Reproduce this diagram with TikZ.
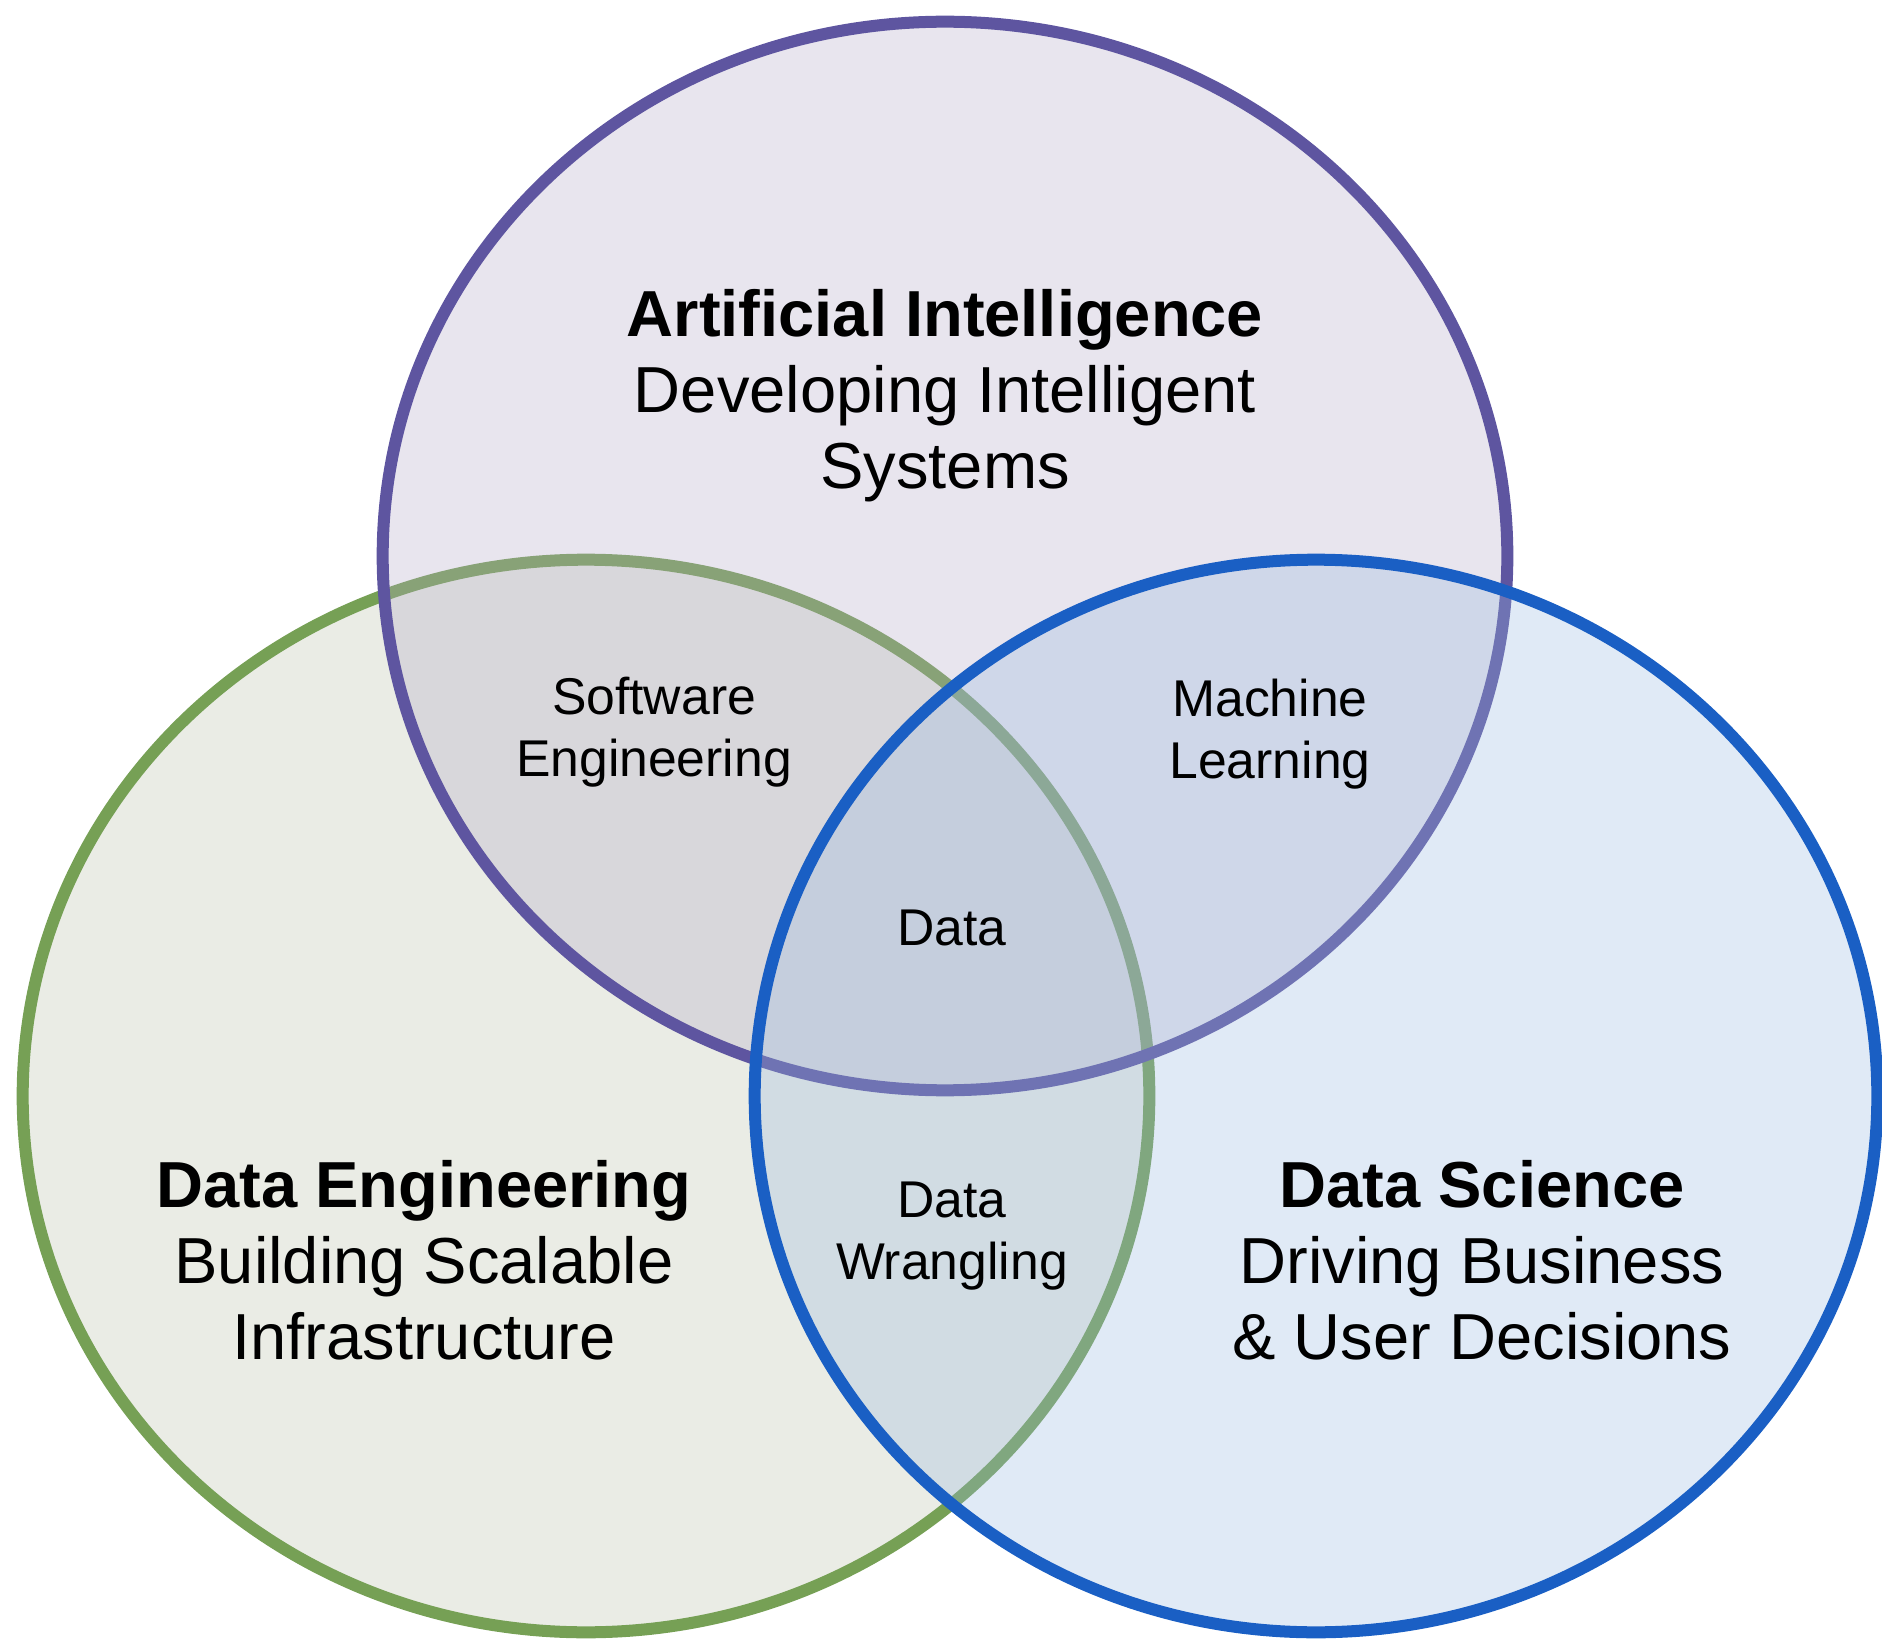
\documentclass[tikz,border=0pt]{standalone}
\usepackage{fontspec}
\setmainfont{Liberation Sans}
\usepackage{tikz}
\definecolor{aiLine}{RGB}{94,85,160}
\definecolor{aiFill}{RGB}{178,168,198}
\definecolor{deLine}{RGB}{118,160,85}
\definecolor{deFill}{RGB}{185,192,168}
\definecolor{dsLine}{RGB}{26,95,196}
\definecolor{dsFill}{RGB}{152,185,225}
\tikzset{
  vset/.style = {line width=0.12cm, fill opacity=0.3, draw opacity=1},
  set_ai/.style = {vset, draw=aiLine, fill=aiFill},% artificial intelligence
  set_de/.style = {vset, draw=deLine, fill=deFill},% data engineering
  set_ds/.style = {vset, draw=dsLine, fill=dsFill},% data science
  bigtxt/.style = {align=center, inner sep=0pt, text=black,
    font=\fontsize{18.5}{21.6}\selectfont},
  smalltxt/.style = {align=center, inner sep=0pt, text=black,
    font=\fontsize{14.7}{17.7}\selectfont}
}

\begin{document}
\begin{tikzpicture}[x=0.01cm, y=-0.01cm]
  \useasboundingbox (0,0) rectangle (1882,1643);
  % the three sets, green first so the others cover its line
  \draw [set_de] (586,1096) ellipse [x radius=5.63cm, y radius=5.36cm];
  \draw [set_ai] (945,556) ellipse [x radius=5.62cm, y radius=5.34cm];
  \draw [set_ds] (1316,1096) ellipse [x radius=5.61cm, y radius=5.36cm];

  \node [bigtxt] (ai) at (945,396)
    {\textbf{Artificial Intelligence}\\Developing Intelligent\\Systems};
  \node [bigtxt] (de) at (424,1260)
    {\textbf{Data Engineering}\\Building Scalable\\Infrastructure};
  \node [bigtxt] (ds) at (1482,1260)
    {\textbf{Data Science}\\Driving Business\\\& User Decisions};

  \node [smalltxt] (se) at (654,732) {Software\\Engineering};
  \node [smalltxt] (ml) at (1270,734) {Machine\\Learning};
  \node [smalltxt] (dt) at (952,928) {Data};
  \node [smalltxt] (dw) at (952,1236) {Data\\Wrangling};
\end{tikzpicture}
\end{document}
